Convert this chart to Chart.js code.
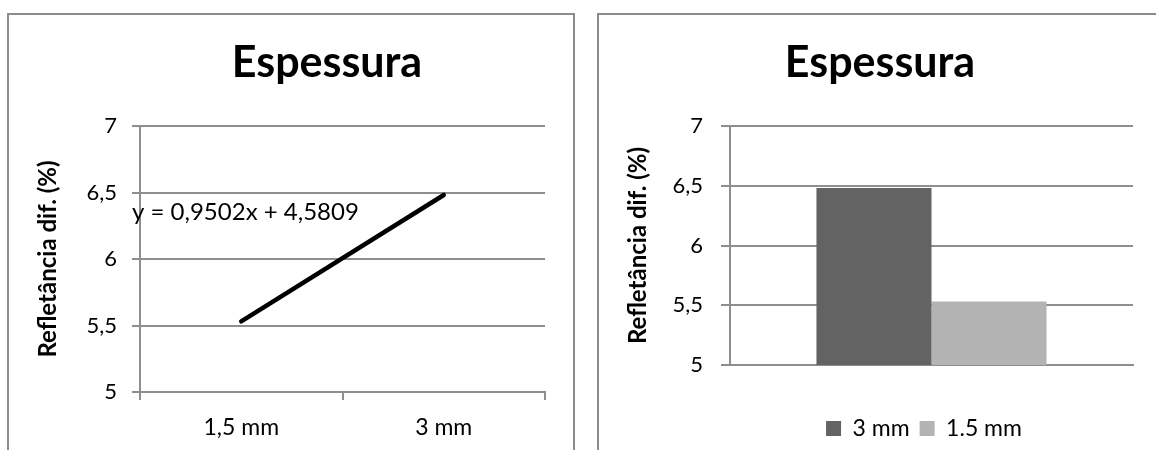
<!DOCTYPE html>
<html lang="pt">
<head>
<meta charset="utf-8">
<title>Espessura</title>
<script src="https://cdn.jsdelivr.net/npm/chart.js@4/dist/chart.umd.min.js"></script>
<style>
  html, body { margin: 0; padding: 0; background: #fff; overflow: hidden; width: 1156px; height: 450px; }
  .panel { position: absolute; top: 13px; border: 2px solid #8c8c8c; background: #fff; }
  #panelLine { left: 7px; width: 564px; height: 470px; }
  #panelBar { left: 597px; width: 580px; height: 470px; }
  .panel canvas { position: absolute; left: 0; top: 0; }
</style>
</head>
<body>
<div class="panel" id="panelLine"><canvas id="lineChart" width="564" height="445"></canvas></div>
<div class="panel" id="panelBar"><canvas id="barChart" width="560" height="445"></canvas></div>
<script>
// Reflectance vs. sample thickness
const chartTitle = 'Espessura';
const yAxisTitle = 'Refletância dif. (%)';
const lineCategories = ['1,5 mm', '3 mm'];
const lineValues = [5.5311, 6.4813];
const trendEquation = 'y = 0,9502x + 4,5809';
const barCategories = [''];
const barSeriesNames = ['3 mm', '1.5 mm'];
const barThick = [6.4813];
const barThin = [5.5311];
const yTickLabels = ['5', '5,5', '6', '6,5', '7'];

const FONT = 'Lato';
const GRID = '#8e8e8e';
Chart.defaults.font.family = FONT;
Chart.defaults.color = '#000';

// Moves the title and legend blocks sideways after layout
const boxShift = {
  id: 'boxShift',
  afterLayout(chart, args, opts) {
    const t = chart.titleBlock;
    if (t && opts.titleDx) { t.left += opts.titleDx; t.right += opts.titleDx; }
    const l = chart.legend;
    if (l && opts.legendDx) { l.left += opts.legendDx; l.right += opts.legendDx; }
  }
};

// Writes the trend line equation next to the line
const trendLabel = {
  id: 'trendLabel',
  afterDatasetsDraw(chart, args, opts) {
    if (!opts.text) return;
    const { ctx, chartArea, scales } = chart;
    ctx.save();
    ctx.font = opts.font;
    ctx.fillStyle = opts.color;
    ctx.textAlign = 'left';
    ctx.textBaseline = 'middle';
    ctx.fillText(opts.text, chartArea.left + opts.dx, scales.y.getPixelForValue(opts.yValue));
    ctx.restore();
  }
};

function titleOptions() {
  return {
    display: true,
    text: chartTitle,
    color: '#000',
    font: { family: FONT, size: 43, weight: 'bold' },
    padding: { top: 22, bottom: 37.4 }
  };
}

function yScale(tickPad, tickLen) {
  return {
    min: 5,
    max: 7,
    afterFit: s => { s.width = 131; },
    ticks: {
      stepSize: 0.5,
      padding: tickPad,
      font: { size: 22 },
      color: '#000',
      callback: (v, i) => yTickLabels[i]
    },
    grid: { color: GRID, lineWidth: 2, tickLength: tickLen, drawTicks: true },
    border: { color: GRID, width: 2 },
    title: {
      display: true,
      text: yAxisTitle,
      color: '#000',
      font: { size: 24, weight: 'bold' },
      padding: { top: 25, bottom: 0 }
    }
  };
}

new Chart(document.getElementById('lineChart'), {
  type: 'line',
  data: {
    labels: lineCategories,
    datasets: [{
      data: lineValues,
      borderColor: '#000',
      borderWidth: 4.5,
      borderCapStyle: 'round',
      pointRadius: 0,
      fill: false,
      tension: 0
    }]
  },
  options: {
    responsive: false,
    animation: false,
    layout: { padding: { left: 0, right: 28, top: 0, bottom: 0 } },
    plugins: {
      legend: { display: false },
      tooltip: { enabled: false },
      title: titleOptions(),
      boxShift: { titleDx: 50 },
      trendLabel: { text: trendEquation, font: '24px ' + FONT, color: '#000', dx: -8, yValue: 6.355 }
    },
    scales: {
      x: {
        offset: true,
        afterFit: s => { s.height = 68; },
        ticks: { padding: 14, font: { size: 23 }, color: '#000' },
        grid: { offset: true, drawOnChartArea: false, drawTicks: true, tickLength: 8, color: GRID, lineWidth: 2 },
        border: { color: GRID, width: 2 }
      },
      y: yScale(15, 8)
    }
  },
  plugins: [boxShift, trendLabel]
});

new Chart(document.getElementById('barChart'), {
  type: 'bar',
  data: {
    labels: barCategories,
    datasets: [
      { label: barSeriesNames[0], data: barThick, backgroundColor: '#636363', borderWidth: 0 },
      { label: barSeriesNames[1], data: barThin, backgroundColor: '#b3b3b3', borderWidth: 0 }
    ]
  },
  options: {
    responsive: false,
    animation: false,
    categoryPercentage: 0.571,
    barPercentage: 1.0,
    layout: { padding: { left: 0, right: 26, top: 0, bottom: 10 } },
    plugins: {
      legend: {
        display: true,
        position: 'bottom',
        labels: { boxWidth: 15, boxHeight: 15, padding: 10, font: { size: 23 }, color: '#000' }
      },
      tooltip: { enabled: false },
      title: titleOptions(),
      boxShift: { titleDx: 14, legendDx: 58 }
    },
    scales: {
      x: {
        afterFit: s => { s.height = 42; },
        ticks: { display: false },
        grid: { display: false },
        border: { color: GRID, width: 2 }
      },
      y: yScale(18, 9)
    }
  },
  plugins: [boxShift, trendLabel]
});
</script>
</body>
</html>
